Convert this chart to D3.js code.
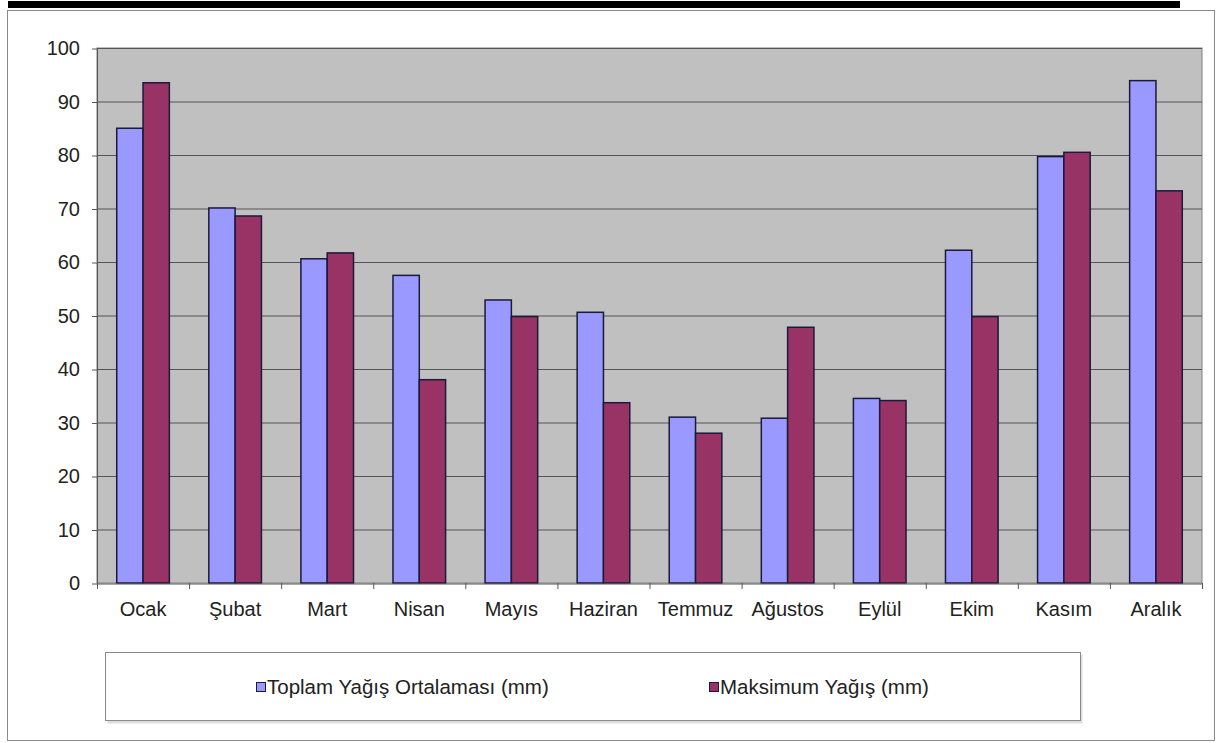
<!DOCTYPE html>
<html>
<head>
<meta charset="utf-8">
<title>Yağış</title>
<script src="https://d3js.org/d3.v7.min.js"></script>
<style>
body { margin: 0; background: #fff; }
text { font-family: "Liberation Sans", Arial, sans-serif; fill: #222; }
</style>
</head>
<body>
<div id="my_dataviz"></div>
<script type="text/javascript">
var months = ['Ocak', 'Şubat', 'Mart', 'Nisan', 'Mayıs', 'Haziran', 'Temmuz', 'Ağustos', 'Eylül', 'Ekim', 'Kasım', 'Aralık'];
var toplam = [85.0, 70.1, 60.6, 57.5, 52.9, 50.6, 31.0, 30.8, 34.5, 62.2, 79.7, 93.9];
var maksimum = [93.5, 68.6, 61.7, 38.0, 49.8, 33.7, 28.0, 47.8, 34.1, 49.8, 80.5, 73.3];
var seriesNames = ['Toplam Yağış Ortalaması (mm)', 'Maksimum Yağış (mm)'];
var yTicks = [0, 10, 20, 30, 40, 50, 60, 70, 80, 90, 100];

var W = 1222, H = 743;
var plot = {left: 97, top: 48, right: 1202, bottom: 583};
var colors = ['#9999FF', '#993366'];

var svg = d3.select("#my_dataviz")
  .append("svg")
    .attr("width", W)
    .attr("height", H);

// black bar on top of the page
svg.append("rect")
  .attr("x", 8).attr("y", 1).attr("width", 1172).attr("height", 7)
  .attr("fill", "#000");

// chart frame
svg.append("rect")
  .attr("x", 7.5).attr("y", 10.5).attr("width", 1207).attr("height", 730)
  .attr("fill", "#fff").attr("stroke", "#8a8a8a");

// plot background
svg.append("rect")
  .attr("x", plot.left).attr("y", plot.top)
  .attr("width", plot.right - plot.left).attr("height", plot.bottom - plot.top)
  .attr("fill", "#C0C0C0").attr("stroke", "#808080");

var x = d3.scaleBand()
  .domain(months)
  .range([plot.left, plot.right]);

// 150% gap width like the original -> 0.75 band on each side
var x1 = d3.scaleBand()
  .domain([0, 1])
  .range([0, x.bandwidth()])
  .paddingOuter(0.75)
  .paddingInner(0);

var y = d3.scaleLinear()
  .domain([0, 100])
  .range([plot.bottom, plot.top]);

// gridlines
svg.append("g")
  .selectAll("line")
  .data(yTicks.filter(function(d) { return d > 0; }))
  .enter().append("line")
    .attr("x1", plot.left).attr("x2", plot.right)
    .attr("y1", function(d) { return y(d) + 0.5; })
    .attr("y2", function(d) { return y(d) + 0.5; })
    .attr("stroke", "#555")
    .attr("stroke-width", 1.2);

// y axis
var yAxis = svg.append("g")
  .attr("transform", "translate(" + plot.left + ",0.5)")
  .call(d3.axisLeft(y).tickValues(yTicks).tickSize(5).tickPadding(12).tickSizeOuter(0));
yAxis.select(".domain").attr("stroke", "#555");
yAxis.selectAll(".tick line").attr("stroke", "#555");
yAxis.selectAll("text")
  .style("font-size", "20px")
  .attr("fill", "#222")
  .attr("font-family", "Liberation Sans, Arial, sans-serif");

// bars
var groups = svg.append("g")
  .selectAll("g")
  .data(months)
  .enter().append("g")
    .attr("transform", function(d) { return "translate(" + x(d) + ",0)"; });

groups.selectAll("rect")
  .data(function(d, i) { return [toplam[i], maksimum[i]]; })
  .enter().append("rect")
    .attr("x", function(d, j) { return x1(j); })
    .attr("y", function(d) { return y(d); })
    .attr("width", x1.bandwidth())
    .attr("height", function(d) { return y(0) - y(d); })
    .attr("fill", function(d, j) { return colors[j]; })
    .attr("stroke", "#1a1a3a")
    .attr("stroke-width", 1.5);

// x axis
var xAxis = svg.append("g")
  .attr("transform", "translate(0," + (plot.bottom + 0.5) + ")")
  .call(d3.axisBottom(x).tickSize(0).tickPadding(18).tickSizeOuter(0));
xAxis.select(".domain").attr("stroke", "#555").attr("stroke-width", 1.2);
xAxis.selectAll("text")
  .style("font-size", "20px")
  .attr("fill", "#222")
  .attr("font-family", "Liberation Sans, Arial, sans-serif");

// category boundary ticks
svg.append("g")
  .selectAll("line")
  .data(months.concat(['end']))
  .enter().append("line")
    .attr("x1", function(d, i) { return plot.left + i * x.step() + 0.5; })
    .attr("x2", function(d, i) { return plot.left + i * x.step() + 0.5; })
    .attr("y1", plot.bottom)
    .attr("y2", plot.bottom + 6)
    .attr("stroke", "#555");

// legend
svg.append("rect")
  .attr("x", 107.5).attr("y", 654.5).attr("width", 975).attr("height", 69)
  .attr("fill", "#ddd");
svg.append("rect")
  .attr("x", 105.5).attr("y", 652.5).attr("width", 975).attr("height", 68)
  .attr("fill", "#fff").attr("stroke", "#8a8a8a");

var legendX = [256, 709];
var legend = svg.append("g")
  .selectAll("g")
  .data(seriesNames)
  .enter().append("g")
    .attr("transform", function(d, i) { return "translate(" + legendX[i] + ",0)"; });

legend.append("rect")
  .attr("x", 0.5).attr("y", 682.5).attr("width", 9).attr("height", 9)
  .attr("fill", function(d, i) { return colors[i]; })
  .attr("stroke", "#1a1a3a");

legend.append("text")
  .attr("x", 11).attr("y", 694)
  .style("font-size", "20.5px")
  .text(function(d) { return d; });
</script>
</body>
</html>
